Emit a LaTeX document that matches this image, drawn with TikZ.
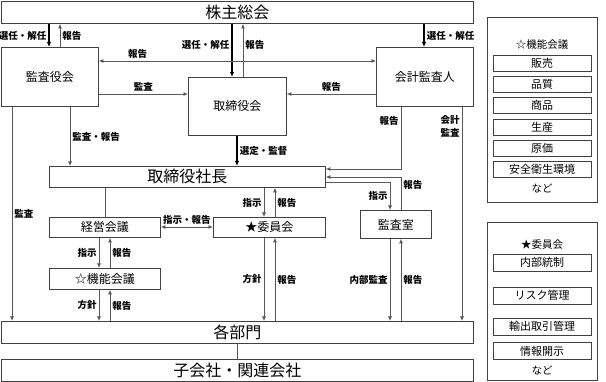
\documentclass[tikz,border=0pt]{standalone}
\usepackage{fontspec}
\setmainfont{Noto Sans CJK JP}
\usepackage{tikz}
\usetikzlibrary{arrows.meta,positioning}
\colorlet{linegray}{black!65}
\colorlet{boxgray}{black!75}

\begin{document}
\begin{tikzpicture}[
    x=1pt, y=-1pt,
    box/.style={rectangle, draw=boxgray, line width=0.8pt, fill=white, inner sep=0pt, anchor=north west, font=\fontsize{12}{14}\selectfont},
    bigbox/.style={box, font=\fontsize{16}{18}\selectfont},
    item/.style={rectangle, draw=boxgray, line width=0.7pt, minimum width=98pt, minimum height=16pt, inner sep=0pt, font=\fontsize{11}{12}\selectfont},
    title/.style={inner sep=1pt, font=\fontsize{10.5}{12}\selectfont},
    lbl/.style={inner sep=2pt, font=\fontsize{9.5}{13}\selectfont\bfseries},
    line/.style={draw=linegray, line width=0.8pt},
    arr/.style={line, -{Latex[length=4.5pt,width=4pt]}},
    biarr/.style={line, {Latex[length=4.5pt,width=4pt]}-{Latex[length=4.5pt,width=4pt]}},
    thickarr/.style={draw=black, line width=1.5pt, -{Latex[length=5pt,width=4.5pt]}}
]
\useasboundingbox (0,0) rectangle (606,382);

% Guide lines for the connectors
\foreach \x in {12,49,60,70,99,105,110,232,237,243,264,275,390,401,424,462}
  \coordinate (x\x) at (\x,0);
\foreach \y in {61,94,169,177,182,227}
  \coordinate (y\y) at (0,\y);

% Main boxes
\node[bigbox, minimum width=472pt, minimum height=22pt] (kabunushi) at (1,1) {株主総会};
\node[box, minimum width=97pt, minimum height=59pt] (kansayaku) at (1,47) {監査役会};
\node[box, minimum width=98pt, minimum height=58pt] (torishimari) at (188,77) {取締役会};
\node[box, minimum width=97pt, minimum height=59pt] (kaikei) at (376,47) {会計監査人};
\node[bigbox, minimum width=276pt, minimum height=21pt] (shacho) at (49,166) {取締役社長};
\node[box, minimum width=111pt, minimum height=20pt] (keiei) at (49,217) {経営会議};
\node[box, minimum width=112pt, minimum height=20pt] (iinkai) at (213,217) {★委員会};
\node[box, minimum width=71pt, minimum height=28pt] (kansashitsu) at (360,210) {監査室};
\node[box, minimum width=111pt, minimum height=21pt] (kinou) at (49,268) {☆機能会議};
\node[bigbox, minimum width=472pt, minimum height=22pt] (kakubu) at (1,321) {各部門};
\node[bigbox, minimum width=472pt, minimum height=22pt] (kogaisha) at (1,359) {子会社・関連会社};

% Side panels
\node[box, minimum width=110pt, minimum height=185pt] (kinoupanel) at (487,17) {};
\node[title] (kinoutitle) at (542,45) {☆機能会議};
\foreach \name [count=\i from 0] in {販売,品質,商品,生産,原価,安全衛生環境}
  \node[item] (kinou\i) at (542,63+21.3*\i) {\name};
\node[title] (kinouetc) at (542,188) {など};

\node[box, minimum width=110pt, minimum height=158pt] (iinpanel) at (487,222) {};
\node[title] (iintitle) at (542,245) {★委員会};
\foreach \name/\y [count=\i] in {内部統制/262.5,リスク管理/295.5,輸出取引管理/326.5,情報開示/351}
  \node[item, minimum height=17pt] (iin\i) at (542,\y) {\name};
\node[title] (iinetc) at (542,370) {など};

% Shareholders
\draw[thickarr] (kabunushi.south -| x49) -- node[lbl, left] {選任・解任} (kansayaku.north -| x49);
\draw[arr] (kansayaku.north -| x60) -- node[lbl, right] {報告} (kabunushi.south -| x60);
\draw[thickarr] (kabunushi.south -| x232) -- node[lbl, left, pos=0.4] {選任・解任} (torishimari.north -| x232);
\draw[arr] (torishimari.north -| x243) -- node[lbl, right, pos=0.6] {報告} (kabunushi.south -| x243);
\draw[thickarr] (kabunushi.south -| x424) -- node[lbl, right] {選任・解任} (kaikei.north -| x424);

% Audit
\draw[biarr] (kansayaku.east |- y61) -- node[lbl, above, pos=0.14] {報告} (kaikei.west |- y61);
\draw[arr] (kansayaku.east |- y94) -- node[lbl, above] {監査} (torishimari.west |- y94);
\draw[arr] (kaikei.west |- y94) -- node[lbl, above] {報告} (torishimari.east |- y94);
\draw[arr] (kansayaku.south -| x12) -- node[lbl, right] {監査} (kakubu.north -| x12);
\draw[arr] (kansayaku.south -| x70) -- node[lbl, right] {監査・報告} (shacho.north -| x70);
\draw[arr] (kaikei.south -| x401) |- node[lbl, left, pos=0.11] {報告} (shacho.east |- y169);
\draw[arr] (kaikei.south -| x462) -- node[lbl, left, align=center, pos=0.09] {会計\\監査} (kakubu.north -| x462);

% Board -> president
\draw[thickarr] (torishimari.south -| x237) -- node[lbl, right] {選定・監督} (shacho.north -| x237);

% President
\draw[line] (shacho.south -| x105) -- (keiei.north -| x105);
\draw[arr] (shacho.south -| x264) -- node[lbl, left] {指示} (iinkai.north -| x264);
\draw[arr] (iinkai.north -| x275) -- node[lbl, right] {報告} (shacho.south -| x275);
\draw[arr] (shacho.east |- y182) -| node[lbl, left, pos=0.75] {指示} (kansashitsu.north -| x390);
\draw[arr] (kansashitsu.north -| x401) |- node[lbl, right, pos=0.38] {報告} (shacho.east |- y177);
\draw[biarr] (keiei.east |- y227) -- node[lbl, above] {指示・報告} (iinkai.west |- y227);

% Councils and departments
\draw[arr] (keiei.south -| x99) -- node[lbl, left] {指示} (kinou.north -| x99);
\draw[arr] (kinou.north -| x110) -- node[lbl, right] {報告} (keiei.south -| x110);
\draw[arr] (kinou.south -| x99) -- node[lbl, left] {方針} (kakubu.north -| x99);
\draw[arr] (kakubu.north -| x110) -- node[lbl, right] {報告} (kinou.south -| x110);
\draw[arr] (iinkai.south -| x264) -- node[lbl, left] {方針} (kakubu.north -| x264);
\draw[arr] (kakubu.north -| x275) -- node[lbl, right] {報告} (iinkai.south -| x275);
\draw[arr] (kansashitsu.south -| x390) -- node[lbl, left] {内部監査} (kakubu.north -| x390);
\draw[arr] (kakubu.north -| x401) -- node[lbl, right] {報告} (kansashitsu.south -| x401);
\draw[line] (kakubu.south -| x237) -- (kogaisha.north -| x237);

\end{tikzpicture}
\end{document}
